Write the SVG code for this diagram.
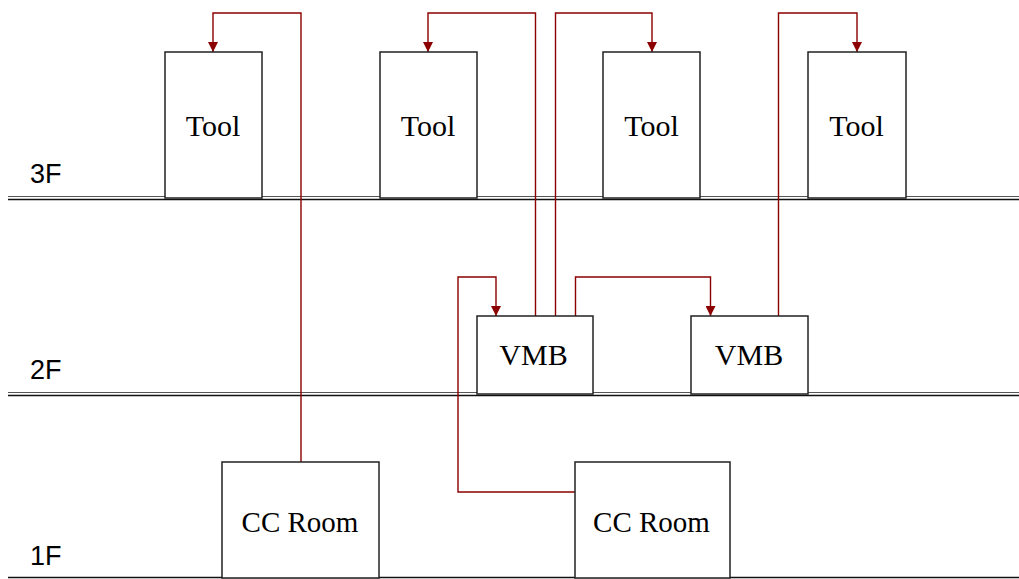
<svg xmlns="http://www.w3.org/2000/svg" width="1019" height="579" viewBox="0 0 1019 579">
  <style>
    .box { fill: #ffffff; stroke: #222222; stroke-width: 1.5; }
    .lbl { font-family: "Liberation Serif", "Times New Roman", serif; font-size: 30px; fill: #000000; text-anchor: middle; }
    .lbl-room { font-size: 29px; }
    .floor { font-family: "Liberation Sans", Arial, sans-serif; font-size: 27px; fill: #000000; }
    .slab1 { stroke: #555555; stroke-width: 1.2; }
    .slab2 { stroke: #111111; stroke-width: 1.6; }
    .wire { fill: none; stroke: #8b0000; stroke-width: 1.4; }
    .wire-arrow { fill: none; stroke: #8b0000; stroke-width: 1.4; marker-end: url(#head); }
  </style>
  <defs>
    <marker id="head" viewBox="0 0 10 10" refX="10" refY="5" markerWidth="10" markerHeight="10" markerUnits="userSpaceOnUse" orient="auto">
      <path d="M0,0 L10,5 L0,10 z" fill="#8b0000"/>
    </marker>
  </defs>

  <rect width="1019" height="579" fill="#ffffff"/>

  <!-- floor slabs -->
  <g id="floors">
    <line class="slab1" x1="8" y1="196.5" x2="1019" y2="196.5"/>
    <line class="slab2" x1="8" y1="199.5" x2="1019" y2="199.5"/>
    <line class="slab1" x1="8" y1="392.5" x2="1019" y2="392.5"/>
    <line class="slab2" x1="8" y1="395.5" x2="1019" y2="395.5"/>
    <line class="slab2" x1="8" y1="577.5" x2="1019" y2="577.5"/>
    <text class="floor" x="30" y="183">3F</text>
    <text class="floor" x="30" y="379">2F</text>
    <text class="floor" x="30" y="565">1F</text>
  </g>

  <!-- cable runs -->
  <g id="connectors">
    <path class="wire-arrow" d="M301,462 V13 H213 V52"/>
    <path class="wire-arrow" d="M535.5,316 V13 H428 V52"/>
    <path class="wire-arrow" d="M555.5,316 V13 H652 V52"/>
    <path class="wire-arrow" d="M575.5,316 V277 H710.5 V316"/>
    <path class="wire-arrow" d="M778.5,316 V13 H857 V52"/>
    <path class="wire-arrow" d="M575,492 H458 V277 H496 V316"/>
  </g>

  <!-- 3F tools -->
  <g id="tool1">
    <rect class="box" x="165" y="52" width="97" height="146"/>
    <text class="lbl" x="213" y="136">Tool</text>
  </g>
  <g id="tool2">
    <rect class="box" x="380" y="52" width="97" height="146"/>
    <text class="lbl" x="428" y="136">Tool</text>
  </g>
  <g id="tool3">
    <rect class="box" x="603" y="52" width="97" height="146"/>
    <text class="lbl" x="651.5" y="136">Tool</text>
  </g>
  <g id="tool4">
    <rect class="box" x="808" y="52" width="98" height="146"/>
    <text class="lbl" x="856.5" y="136">Tool</text>
  </g>

  <!-- 2F valve manifold boxes -->
  <g id="vmb1">
    <rect class="box" x="477" y="316" width="116" height="78"/>
    <text class="lbl" x="533.5" y="365">VMB</text>
  </g>
  <g id="vmb2">
    <rect class="box" x="691" y="316" width="117" height="78"/>
    <text class="lbl" x="749" y="365">VMB</text>
  </g>

  <!-- 1F central chemical rooms -->
  <g id="ccroom1">
    <rect class="box" x="222" y="462" width="157" height="116"/>
    <text class="lbl lbl-room" x="300" y="532">CC Room</text>
  </g>
  <g id="ccroom2">
    <rect class="box" x="575" y="462" width="155" height="116"/>
    <text class="lbl lbl-room" x="651.5" y="532">CC Room</text>
  </g>
</svg>
